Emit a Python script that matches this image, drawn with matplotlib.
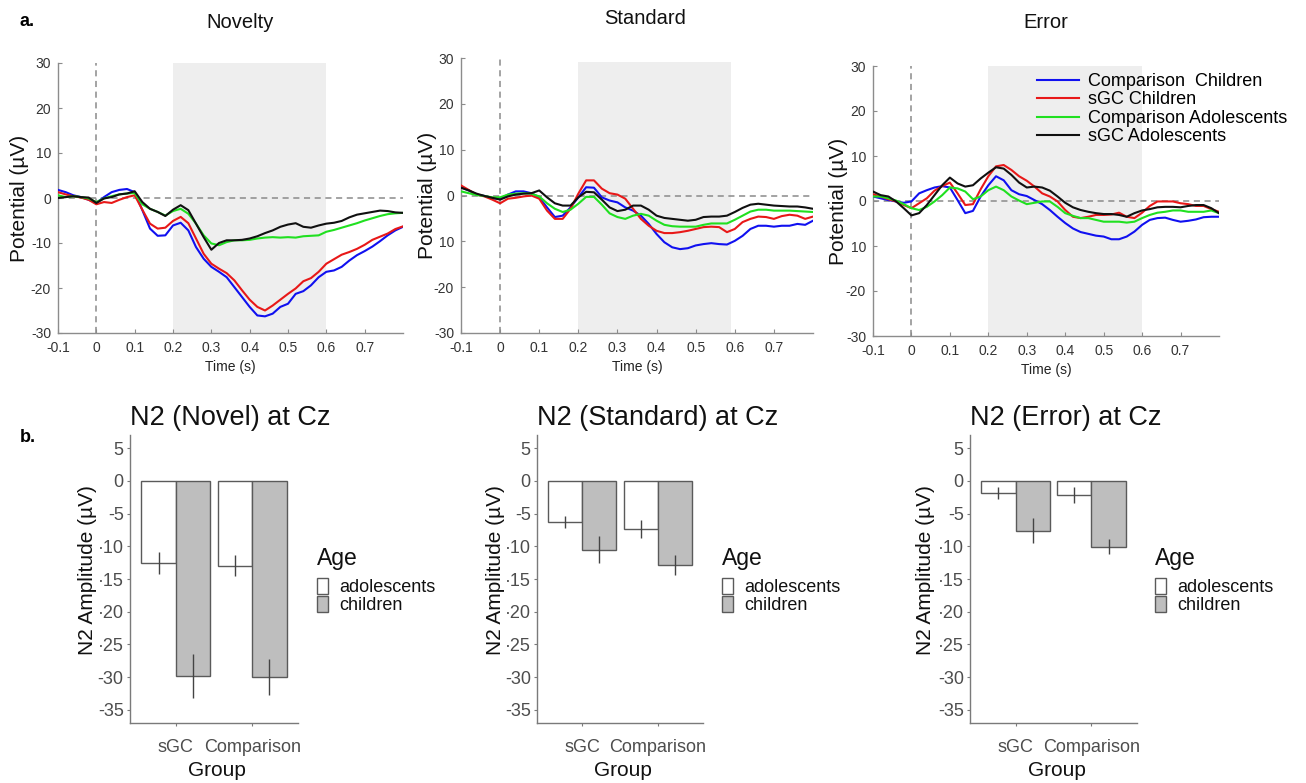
import matplotlib
matplotlib.use("Agg")
import matplotlib.pyplot as plt
from matplotlib.patches import Patch
import numpy as np

plt.rcParams['font.family'] = ['Liberation Sans', 'DejaVu Sans']

# ---------------- data ----------------
time_s = [round(-0.1 + 0.02 * i, 2) for i in range(46)]

series_names = ["Comparison  Children", "sGC Children", "Comparison Adolescents", "sGC Adolescents"]
series_colors = ["#1010F0", "#E81818", "#20E020", "#101010"]

# Novelty
nov_comp_child = [1.8, 1.3, 0.6, 0.2, -0.4, -1.1, 0.2, 1.3, 1.8, 2.0, 1.3, -2.7, -6.8, -8.4, -8.3, -6.1, -5.5, -7.2,
                  -10.9, -13.5, -15.3, -16.4, -17.6, -19.8, -22.0, -24.2, -26.1, -26.3, -25.7, -24.2, -23.5, -21.3,
                  -20.7, -19.4, -17.6, -16.4, -16.1, -15.3, -13.9, -12.7, -11.8, -10.8, -9.6, -8.3, -7.2, -6.4]
nov_sgc_child = [1.3, 0.8, 0.4, 0.1, -0.4, -1.4, -0.9, -1.1, -0.4, 0.2, 0.6, -2.6, -5.7, -6.8, -6.6, -5.1, -4.2, -5.6,
                 -9.0, -12.4, -14.6, -15.7, -16.7, -18.3, -20.5, -22.6, -24.2, -25.0, -23.9, -22.6, -21.3, -20.1,
                 -18.5, -17.8, -16.4, -14.6, -13.6, -12.6, -12.0, -11.3, -10.4, -9.3, -8.6, -7.9, -6.9, -6.3]
nov_comp_adol = [0.6, 0.2, 0.4, 0.2, -0.1, -0.9, -0.1, 0.4, 0.8, 1.0, 1.1, -1.4, -2.4, -3.1, -3.9, -2.9, -2.4, -3.5,
                 -5.7, -8.3, -10.1, -10.5, -9.8, -9.4, -9.4, -9.3, -9.0, -8.8, -8.7, -8.8, -8.7, -8.8, -8.5, -8.4,
                 -8.3, -7.5, -7.1, -6.6, -6.1, -5.6, -5.0, -4.5, -4.0, -3.6, -3.4, -3.3]
nov_sgc_adol = [0.0, 0.2, 0.4, 0.2, 0.1, -1.1, -0.1, 0.2, 0.8, 1.0, 1.5, -0.9, -2.4, -3.1, -4.0, -2.6, -1.6, -2.7,
                -5.7, -8.7, -11.5, -10.0, -9.4, -9.4, -9.3, -9.0, -8.5, -7.8, -7.2, -6.4, -5.9, -5.6, -6.4, -6.6,
                -6.1, -5.7, -5.5, -5.1, -4.3, -3.7, -3.4, -3.1, -2.8, -2.9, -3.2, -3.3]

# Standard
std_comp_child = [1.8, 1.1, 0.2, -0.1, -0.6, -0.7, 0.2, 0.9, 0.9, 0.5, -0.4, -2.6, -4.7, -4.4, -2.6, -0.4, 1.8, 1.7,
                  -0.4, -1.1, -1.5, -2.6, -3.3, -4.4, -6.2, -8.4, -10.2, -11.3, -11.7, -11.5, -10.9, -10.6, -10.4,
                  -10.6, -10.7, -9.9, -8.8, -7.3, -6.6, -6.6, -6.8, -6.6, -6.6, -6.2, -6.4, -5.5]
std_sgc_child = [2.2, 1.2, 0.2, -0.2, -0.9, -1.7, -0.7, -0.5, -0.2, 0.0, -0.7, -3.3, -5.1, -5.1, -2.9, 0.4, 3.3, 3.3,
                 1.5, 0.5, 0.2, -0.7, -2.9, -5.1, -6.6, -7.7, -8.2, -8.2, -8.0, -7.7, -7.3, -6.9, -6.8, -6.9, -8.0,
                 -7.3, -5.8, -5.1, -4.6, -4.7, -5.1, -4.5, -4.2, -4.4, -5.1, -4.6]
std_comp_adol = [0.9, 0.5, 0.1, -0.1, -0.4, -0.4, 0.2, 0.4, 0.5, 0.4, -0.2, -1.7, -2.9, -3.6, -3.1, -1.8, -0.3, -0.3,
                 -2.0, -3.9, -4.7, -5.1, -4.4, -4.0, -4.4, -5.5, -6.4, -6.7, -6.8, -6.8, -6.8, -6.4, -6.1, -6.1, -6.1,
                 -5.3, -4.4, -3.5, -3.1, -3.1, -3.3, -3.3, -3.3, -3.4, -3.5, -3.6]
std_sgc_adol = [1.7, 1.1, 0.4, -0.1, -0.5, -0.9, -0.2, 0.2, 0.4, 0.5, 1.1, -0.4, -1.7, -2.2, -2.2, -0.4, 0.8, 0.7,
                -0.9, -2.6, -3.4, -3.1, -2.2, -2.2, -3.1, -4.4, -4.9, -5.1, -5.3, -5.5, -5.3, -4.7, -4.6, -4.6, -4.4,
                -3.6, -2.7, -2.0, -1.8, -2.0, -2.2, -2.3, -2.4, -2.4, -2.6, -2.9]

# Error
err_comp_child = [1.0, 0.6, 0.2, -0.1, -0.4, -0.1, 1.7, 2.4, 3.0, 3.3, 3.0, 0.2, -2.7, -2.2, 1.0, 3.5, 5.5, 4.6, 2.4,
                  1.5, 1.1, 0.2, -0.7, -2.0, -3.5, -4.9, -6.1, -6.9, -7.3, -7.7, -7.9, -8.5, -8.5, -7.9, -6.8, -5.3,
                  -4.2, -3.8, -3.7, -4.2, -4.6, -4.4, -4.1, -3.6, -3.5, -3.5]
err_sgc_child = [1.5, 1.0, 0.4, -0.1, -0.9, -1.6, -0.5, 0.6, 2.3, 3.3, 4.1, 1.7, -0.9, -0.7, 2.6, 5.5, 7.7, 8.0, 6.9,
                 5.5, 4.5, 3.2, 1.7, 1.0, -0.1, -2.0, -3.5, -3.8, -3.5, -3.1, -3.1, -3.0, -2.6, -3.5, -3.8, -2.6,
                 -1.1, -0.1, -0.1, -0.1, -0.5, -0.7, -1.1, -1.1, -1.8, -2.4]
err_comp_adol = [1.0, 1.0, 0.6, 0.1, -0.7, -1.6, -2.0, -1.3, -0.1, 1.3, 3.0, 2.8, 2.1, 0.4, 1.0, 2.4, 3.2, 2.4, 1.0,
                 0.1, -0.7, -0.4, -0.1, -0.1, -1.3, -2.7, -3.3, -3.8, -3.8, -4.2, -4.6, -4.6, -4.6, -4.8, -4.6, -3.8,
                 -3.1, -2.6, -2.4, -2.1, -2.1, -2.4, -2.4, -2.4, -2.1, -2.7]
err_sgc_adol = [2.1, 1.3, 1.0, -0.1, -1.6, -3.2, -2.7, -0.9, 1.3, 3.5, 5.2, 3.9, 3.2, 3.5, 5.0, 6.3, 7.5, 7.2, 5.8,
                4.1, 3.0, 3.2, 3.0, 2.3, 1.0, -0.4, -1.4, -2.0, -2.4, -2.7, -2.9, -2.9, -3.1, -3.5, -2.7, -2.1,
                -1.8, -1.4, -1.3, -1.3, -1.4, -1.1, -0.9, -0.9, -1.6, -2.7]

erp_titles = ["Novelty", "Standard", "Error"]
erp_windows = [(0.2, 0.6), (0.2, 0.59), (0.2, 0.6)]
erp_yticks = [-30, -20, -10, 0, 10, 20, 30]
erp_yticklabels = [["-30", "-20", "-10", "0", "10", "20", "30"],
                   ["-30", "-20", "10", "0", "10", "20", "30"],
                   ["-30", "-20", "10", "0", "10", "20", "30"]]
erp_xticks = [-0.1, 0, 0.1, 0.2, 0.3, 0.4, 0.5, 0.6, 0.7]
erp_xticklabels = ["-0.1", "0", "0.1", "0.2", "0.3", "0.4", "0.5", "0.6", "0.7"]

# Bar charts (N2 amplitude)
groups = ["sGC", "Comparison"]
ages = ["adolescents", "children"]
bar_titles = ["N2 (Novel) at Cz", "N2 (Standard) at Cz", "N2 (Error) at Cz"]
adol_mean = [[-12.6, -13.0], [-6.3, -7.4], [-1.9, -2.2]]
adol_se = [[1.65, 1.6], [0.85, 1.4], [0.9, 1.25]]
child_mean = [[-29.8, -30.0], [-10.5, -12.9], [-7.6, -10.1]]
child_se = [[3.4, 2.75], [2.0, 1.55], [1.9, 1.15]]
bar_yticks = [5, 0, -5, -10, -15, -20, -25, -30, -35]
bar_yticklabels = ["5", "0", "-5", "·10", "·15", "·20", "·25", "-30", "-35"]

# ---------------- figure ----------------
W, H = 1306, 783
fig = plt.figure(figsize=(W / 100, H / 100), dpi=100)


def px_axes(l, r, t, b):
    return fig.add_axes([l / W, 1 - b / H, (r - l) / W, (b - t) / H])


erp_boxes = [(58, 403, 63, 333), (461, 813, 58, 333), (873, 1219, 66, 336)]
erp_ylabel_x = [29, 437, 848]
erp_data = [
    [nov_comp_child, nov_sgc_child, nov_comp_adol, nov_sgc_adol],
    [std_comp_child, std_sgc_child, std_comp_adol, std_sgc_adol],
    [err_comp_child, err_sgc_child, err_comp_adol, err_sgc_adol],
]
title_pos = [(240, 22), (645, 18), (1046, 22)]

for i in range(3):
    l, r, t, b = erp_boxes[i]
    ax = px_axes(l, r, t, b)
    ax.set_xlim(-0.1, 0.8)
    ax.set_ylim(-30, 30)
    top_frac = 0.985 if i == 1 else 1.0
    ax.axvspan(erp_windows[i][0], erp_windows[i][1], ymin=0, ymax=top_frac, color="#EEEEEE", lw=0, zorder=0)
    ax.axhline(0, color="#8A8A8A", lw=1.1, ls=(0, (4, 3)), zorder=1)
    ax.axvline(0, color="#8A8A8A", lw=1.1, ls=(0, (4, 3)), zorder=1)
    for vals, c, name in zip(erp_data[i], series_colors, series_names):
        ax.plot(time_s, vals, color=c, lw=1.5, label=name, zorder=3, solid_joinstyle="round")
    for s in ["top", "right"]:
        ax.spines[s].set_visible(False)
    for s in ["left", "bottom"]:
        ax.spines[s].set_color("#8C8C8C")
        ax.spines[s].set_linewidth(1.0)
    ax.set_xticks(erp_xticks)
    ax.set_xticklabels(erp_xticklabels)
    ax.set_yticks(erp_yticks)
    ax.set_yticklabels(erp_yticklabels[i])
    ax.tick_params(direction="in", length=3, width=0.8, color="#8C8C8C", labelsize=10,
                   labelcolor="#333333")
    ax.tick_params(axis="x", pad=6)
    ax.tick_params(axis="y", pad=5)
    ax.set_xlabel("Time (s)", fontsize=10, color="#222222", labelpad=3)
    ax.set_ylabel("Potential (µV)", fontsize=15, color="#111111")
    ax.yaxis.set_label_coords((erp_ylabel_x[i] - l) / (r - l), 0.5)
    fig.text(title_pos[i][0] / W, 1 - title_pos[i][1] / H, erp_titles[i], fontsize=14.5, ha="center",
             va="center", color="#111111")
    if i == 2:
        ax.legend(loc="upper left", bbox_to_anchor=(1037 / W, 1 - 73 / H), bbox_transform=fig.transFigure,
                  frameon=False, fontsize=13, handlelength=2.3, handletextpad=0.5, labelspacing=0.08,
                  borderpad=0, borderaxespad=0)

fig.text(20 / W, 1 - 22 / H, "a.", fontsize=13, fontweight="bold", ha="left", va="center")
fig.text(20 / W, 1 - 437 / H, "b.", fontsize=13, fontweight="bold", ha="left", va="center")

bar_boxes = [(130, 298, 435, 723), (537, 703, 435, 723), (970, 1137, 435, 723)]
bar_ylabel_x = [97, 505, 935]
legend_x = [317, 722, 1155]
x_groups = np.arange(1, len(groups) + 1)
bw = 0.45
edge = "#5A5A5A"
for i in range(3):
    l, r, t, b = bar_boxes[i]
    ax = px_axes(l, r, t, b)
    ax.set_xlim(0.4, 2.6)
    ax.set_ylim(-37, 7)
    ax.bar(x_groups - bw / 2, adol_mean[i], width=bw, color="white", edgecolor=edge, lw=1.0, zorder=2)
    ax.bar(x_groups + bw / 2, child_mean[i], width=bw, color="#BEBEBE", edgecolor=edge, lw=1.0, zorder=2)
    ax.errorbar(x_groups - bw / 2, adol_mean[i], yerr=adol_se[i], fmt="none", ecolor="#444444", elinewidth=1.0,
                capsize=0, zorder=3)
    ax.errorbar(x_groups + bw / 2, child_mean[i], yerr=child_se[i], fmt="none", ecolor="#444444", elinewidth=1.0,
                capsize=0, zorder=3)
    for s in ["top", "right"]:
        ax.spines[s].set_visible(False)
    for s in ["left", "bottom"]:
        ax.spines[s].set_color("#7A7A7A")
        ax.spines[s].set_linewidth(1.0)
    ax.set_yticks(bar_yticks)
    ax.set_yticklabels(bar_yticklabels)
    ax.set_xticks(x_groups)
    ax.set_xticklabels(groups)
    ax.tick_params(direction="out", length=2.5, width=0.8, color="#7A7A7A", labelsize=13,
                   labelcolor="#4D4D4D", pad=2)
    ax.tick_params(axis="x", pad=9)
    ax.set_ylabel("N2 Amplitude (µV)", fontsize=15, color="#111111")
    ax.yaxis.set_label_coords((bar_ylabel_x[i] - l) / (r - l), 1 - (570 - t) / (b - t))
    ax.set_xlabel("Group", fontsize=15, color="#111111")
    ax.xaxis.label.set_va("center")
    ax.xaxis.set_label_coords(0.52, -(771 - b) / (b - t))
    ax.text(0, 1 + (435 - 425) / (b - t), bar_titles[i], transform=ax.transAxes, fontsize=19.5,
            ha="left", va="baseline", color="#111111")
    fig.text(legend_x[i] / W, 1 - 559 / H, "Age", fontsize=16.5, ha="left", va="center", color="#111111")
    handles = [Patch(facecolor="white", edgecolor=edge, lw=1.0), Patch(facecolor="#BEBEBE", edgecolor=edge, lw=1.0)]
    leg = ax.legend(handles, ages, loc="upper left",
                    bbox_to_anchor=(legend_x[i] / W, 1 - 578 / H), bbox_transform=fig.transFigure,
                    frameon=False, fontsize=13, handlelength=0.62, handleheight=0.95,
                    handletextpad=0.6, labelspacing=0.0, borderpad=0, borderaxespad=0)
    for txt in leg.get_texts():
        txt.set_color("#111111")

fig.savefig("out.png", dpi=100)
